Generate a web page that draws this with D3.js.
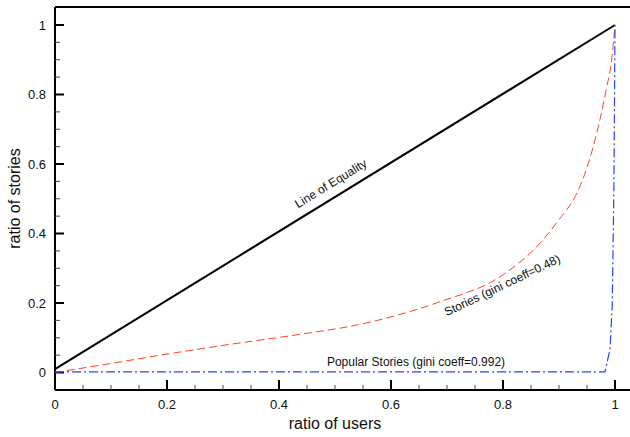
<!DOCTYPE html>
<html>
<head>
<meta charset="utf-8">
<script src="https://cdn.jsdelivr.net/npm/d3@7"></script>
<style>
  body { margin: 0; background: #fff; }
  text { font-family: "Liberation Sans", Arial, sans-serif; fill: #111; }
</style>
</head>
<body>
<div id="d3-container"></div>
<script>
/**
 * CONSTANTS AND DATA
 * */
const width = 630,
    height = 437;

// line of equality
const equalityX = [0, 1];
const equalityY = [0.01, 1];

// stories lorenz curve (gini 0.48)
const storiesX = [0, 0.1, 0.2, 0.3, 0.438, 0.54, 0.6, 0.688, 0.795, 0.866, 0.9, 0.93, 0.95, 0.973, 0.985, 0.994, 1];
const storiesY = [0, 0.026, 0.053, 0.078, 0.11, 0.137, 0.16, 0.204, 0.276, 0.372, 0.44, 0.51, 0.59, 0.727, 0.82, 0.899, 1];

// popular stories lorenz curve (gini 0.992)
const popularX = [0, 0.982, 0.991, 0.995, 0.998, 1];
const popularY = [0.002, 0.002, 0.065, 0.19, 0.525, 1];

const xTicks = [0, 0.2, 0.4, 0.6, 0.8, 1];
const yTicks = [0, 0.2, 0.4, 0.6, 0.8, 1];
const minorTicks = d3.range(0, 1.0001, 0.05);

// scales: 0..1 maps onto 55..615 and 372.5..25
const x = d3.scaleLinear().domain([0, 1]).range([55, 615]);
const y = d3.scaleLinear().domain([0, 1]).range([372.5, 25]);
const xMax = x.invert(630), yMax = y.invert(7), yMin = y.invert(390);

const svg = d3.select("#d3-container")
    .append("svg")
    .attr("width", width)
    .attr("height", height);

// frame lines: left, bottom, top
svg.append("line").attr("x1", x(0)).attr("x2", x(0)).attr("y1", y(yMax)).attr("y2", y(yMin))
    .attr("stroke", "#000").attr("stroke-width", 2);
svg.append("line").attr("x1", x(0)).attr("x2", x(xMax)).attr("y1", y(yMin)).attr("y2", y(yMin))
    .attr("stroke", "#000").attr("stroke-width", 2);
svg.append("line").attr("x1", x(0)).attr("x2", x(xMax)).attr("y1", y(yMax)).attr("y2", y(yMax))
    .attr("stroke", "#000").attr("stroke-width", 2);

// minor ticks
svg.selectAll(".xminor").data(minorTicks.filter((d, i) => i % 4 !== 0)).join("line")
    .attr("class", "xminor")
    .attr("x1", d => x(d)).attr("x2", d => x(d))
    .attr("y1", y(yMin)).attr("y2", y(yMin) - 5)
    .attr("stroke", "#444").attr("stroke-width", 1);
svg.selectAll(".yminor").data(minorTicks.filter((d, i) => i % 4 !== 0)).join("line")
    .attr("class", "yminor")
    .attr("y1", d => y(d)).attr("y2", d => y(d))
    .attr("x1", x(0)).attr("x2", x(0) + 5)
    .attr("stroke", "#444").attr("stroke-width", 1);

// major ticks
svg.selectAll(".xmajor").data(xTicks).join("line")
    .attr("class", "xmajor")
    .attr("x1", d => x(d)).attr("x2", d => x(d))
    .attr("y1", y(yMin)).attr("y2", y(yMin) - 10)
    .attr("stroke", "#000").attr("stroke-width", 2);
svg.selectAll(".ymajor").data(yTicks).join("line")
    .attr("class", "ymajor")
    .attr("y1", d => y(d)).attr("y2", d => y(d))
    .attr("x1", x(0)).attr("x2", x(0) + 9)
    .attr("stroke", "#000").attr("stroke-width", 2);

// tick labels
svg.selectAll(".xlab").data(xTicks).join("text")
    .attr("class", "xlab")
    .attr("x", d => x(d)).attr("y", 409)
    .attr("text-anchor", "middle")
    .attr("font-size", 13)
    .text(d => d3.format("~g")(d));
svg.selectAll(".ylab").data(yTicks).join("text")
    .attr("class", "ylab")
    .attr("x", 46).attr("y", d => y(d) + 4.5)
    .attr("text-anchor", "end")
    .attr("font-size", 13)
    .text(d => d3.format("~g")(d));

// axis titles
svg.append("text")
    .attr("x", 335).attr("y", 429)
    .attr("text-anchor", "middle")
    .attr("font-size", 16)
    .text("ratio of users");
svg.append("text")
    .attr("transform", `translate(20, ${(y(yMax) + y(yMin)) / 2}) rotate(-90)`)
    .attr("text-anchor", "middle")
    .attr("font-size", 16)
    .text("ratio of stories");

// lines
const line = d3.line().x(d => x(d[0])).y(d => y(d[1]));

svg.append("path")
    .datum(d3.zip(equalityX, equalityY))
    .attr("d", line)
    .attr("fill", "none")
    .attr("stroke", "#000")
    .attr("stroke-width", 2);

svg.append("path")
    .datum(d3.zip(storiesX, storiesY))
    .attr("d", d3.line().x(d => x(d[0])).y(d => y(d[1])).curve(d3.curveMonotoneX))
    .attr("fill", "none")
    .attr("stroke", "#ff4422")
    .attr("stroke-width", 1)
    .attr("stroke-dasharray", "8,4");

svg.append("path")
    .datum(d3.zip(popularX, popularY))
    .attr("d", line)
    .attr("fill", "none")
    .attr("stroke", "#2244ff")
    .attr("stroke-width", 1.2)
    .attr("stroke-dasharray", "9,3,2,3");

// annotations
svg.append("text")
    .attr("transform", "translate(333, 187) rotate(-31.6)")
    .attr("text-anchor", "middle")
    .attr("font-size", 12)
    .text("Line of Equality");
svg.append("text")
    .attr("transform", "translate(504, 289) rotate(-25.5)")
    .attr("text-anchor", "middle")
    .attr("font-size", 12)
    .text("Stories (gini coeff=0.48)");
svg.append("text")
    .attr("x", 416).attr("y", 366)
    .attr("text-anchor", "middle")
    .attr("font-size", 12)
    .text("Popular Stories (gini coeff=0.992)");
</script>
</body>
</html>
